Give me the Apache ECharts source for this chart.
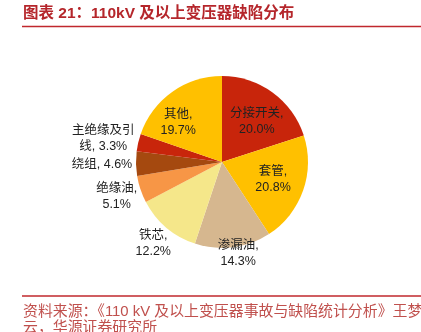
<!DOCTYPE html>
<html>
<head>
<meta charset="utf-8">
<script src="https://cdn.jsdelivr.net/npm/echarts@6/dist/echarts.min.js"></script>
<style>
  html, body { margin: 0; padding: 0; background: #fff; }
  #chart { width: 421px; height: 332px; }
</style>
</head>
<body>
<div id="chart"></div>
<script>
// Defect categories of transformers rated 110 kV and above (share, %)
const categories = ['分接开关', '套管', '渗漏油', '铁芯', '绝缘油', '绕组', '主绝缘及引线', '其他'];
const shares = [20.0, 20.8, 14.3, 12.2, 5.1, 4.6, 3.3, 19.7];

const sliceColors = ['#C8250B', '#FFC000', '#D6B78F', '#F5E78A', '#F79646', '#A5490F', '#C8250B', '#FFC000'];
// label anchor in polar form around the pie centre: distance (px) and angle (deg, clockwise from 12 o'clock)
const labelRadius = [53, 54, 93, 107, 111, 120, 121, 59];
const labelAngle = [41, 109, 170, 220, 251.6, 269, 281, 312];

const CX = 222, CY = 162, R = 86;
const FONT = '"Liberation Sans", "Noto Sans CJK SC", sans-serif';

function labelText(name, value) {
  const pct = value.toFixed(1) + '%';
  if (name === '绕组') return name + ', ' + pct;
  if (name === '主绝缘及引线') return '主绝缘及引\n线, ' + pct;
  return name + ',\n' + pct;
}

const chart = echarts.init(document.getElementById('chart'), null, { renderer: 'canvas' });
chart.setOption({
  animation: false,
  backgroundColor: '#fff',
  series: [{
    type: 'pie',
    center: [CX, CY],
    radius: [0, R],
    startAngle: 90,
    clockwise: true,
    avoidLabelOverlap: false,
    itemStyle: { borderWidth: 0 },
    label: {
      show: true,
      position: 'inside',
      color: '#222',
      fontSize: 12.5,
      lineHeight: 16,
      fontFamily: FONT,
      formatter: p => labelText(p.name, p.value)
    },
    labelLine: { show: false },
    labelLayout: p => {
      const a = labelAngle[p.dataIndex] * Math.PI / 180;
      const r = labelRadius[p.dataIndex];
      return {
        x: CX + r * Math.sin(a),
        y: CY - r * Math.cos(a),
        align: 'center',
        verticalAlign: 'middle'
      };
    },
    emphasis: { disabled: true },
    data: categories.map((name, i) => ({
      name,
      value: shares[i],
      itemStyle: { color: sliceColors[i] }
    }))
  }],
  graphic: [
    {
      type: 'text', left: 23, top: 6,
      style: {
        text: '图表 21：110kV 及以上变压器缺陷分布',
        fill: '#B5262B', font: 'bold 15.5px ' + FONT
      }
    },
    {
      type: 'line',
      shape: { x1: 22, y1: 26.5, x2: 421, y2: 26.5 },
      style: { stroke: '#C0282D', lineWidth: 1.5 }
    },
    {
      type: 'line',
      shape: { x1: 22, y1: 296, x2: 421, y2: 296 },
      style: { stroke: '#C0282D', lineWidth: 1.5 }
    },
    {
      type: 'text', left: 23, top: 304,
      style: {
        text: '资料来源：《110 kV 及以上变压器事故与缺陷统计分析》王梦\n云，华源证券研究所',
        fill: '#C0504D', font: '14.9px ' + FONT, lineHeight: 16
      }
    }
  ]
});
</script>
</body>
</html>
